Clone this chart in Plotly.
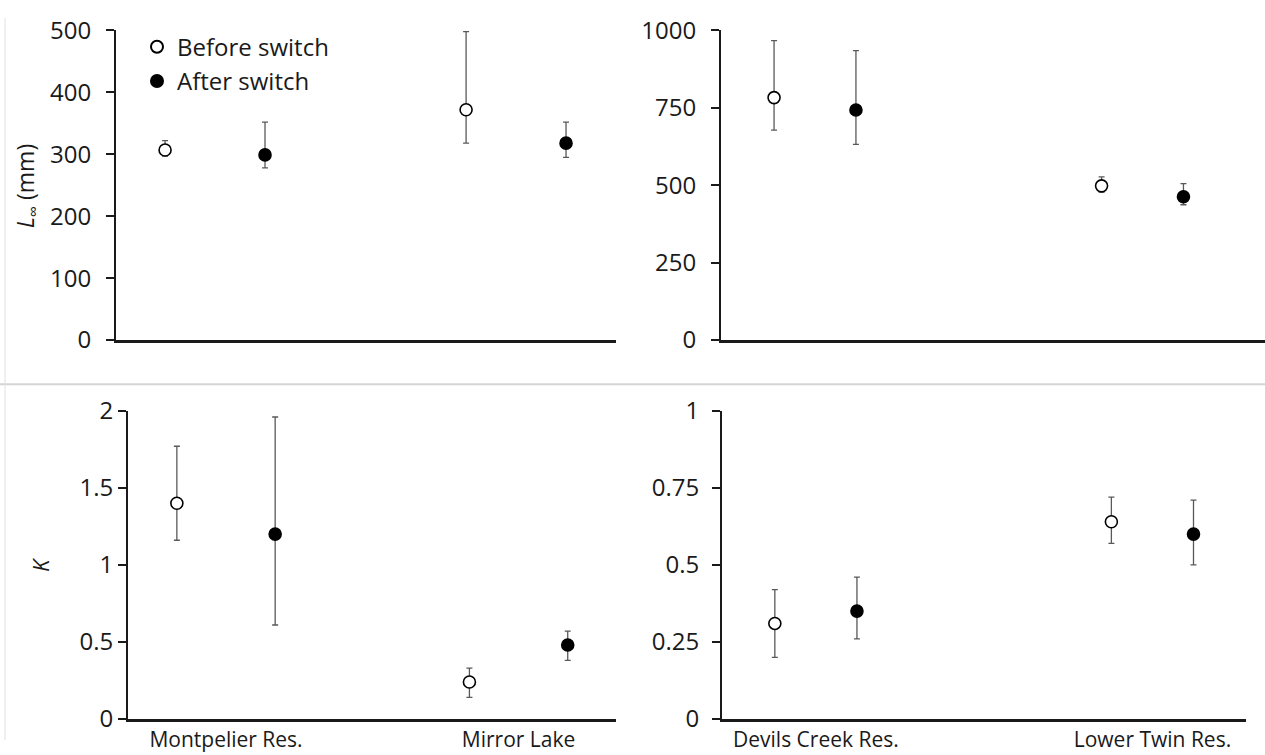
import plotly.graph_objects as go

# ---- data ----
lakes_left = ["Montpelier Res.", "Mirror Lake"]
lakes_right = ["Devils Creek Res.", "Lower Twin Res."]

linf_left_before = [307, 372]
linf_left_before_lo = [297, 318]
linf_left_before_hi = [322, 498]
linf_left_after = [299, 318]
linf_left_after_lo = [278, 295]
linf_left_after_hi = [352, 352]

linf_right_before = [783, 498]
linf_right_before_lo = [678, 478]
linf_right_before_hi = [967, 527]
linf_right_after = [743, 463]
linf_right_after_lo = [632, 437]
linf_right_after_hi = [935, 505]

k_left_before = [1.40, 0.24]
k_left_before_lo = [1.16, 0.14]
k_left_before_hi = [1.77, 0.33]
k_left_after = [1.20, 0.48]
k_left_after_lo = [0.61, 0.38]
k_left_after_hi = [1.96, 0.57]

k_right_before = [0.31, 0.64]
k_right_before_lo = [0.20, 0.57]
k_right_before_hi = [0.42, 0.72]
k_right_after = [0.35, 0.60]
k_right_after_lo = [0.26, 0.50]
k_right_after_hi = [0.46, 0.71]

series_names = ["Before switch", "After switch"]

W, H = 1265, 755
FONT = "Open Sans"
AX = "#1a1a1a"
ERR = "#595959"

fig = go.Figure()

panels = [
    ("x", "y", linf_left_before, linf_left_before_lo, linf_left_before_hi,
     linf_left_after, linf_left_after_lo, linf_left_after_hi, 0.166, True),
    ("x2", "y2", linf_right_before, linf_right_before_lo, linf_right_before_hi,
     linf_right_after, linf_right_after_lo, linf_right_after_hi, 0.125, False),
    ("x3", "y3", k_left_before, k_left_before_lo, k_left_before_hi,
     k_left_after, k_left_after_lo, k_left_after_hi, 0.168, False),
    ("x4", "y4", k_right_before, k_right_before_lo, k_right_before_hi,
     k_right_after, k_right_after_lo, k_right_after_hi, 0.122, False),
]

for xa, ya, b, blo, bhi, a, alo, ahi, d, show in panels:
    idx = list(range(len(b)))
    for name, vals, lo, hi, off, fill in [
        (series_names[0], b, blo, bhi, -d, "white"),
        (series_names[1], a, alo, ahi, d, "black"),
    ]:
        fig.add_trace(go.Scatter(
            x=[i + off for i in idx], y=vals,
            mode="markers", name=name, showlegend=show,
            xaxis=xa, yaxis=ya,
            marker=dict(size=12, color=fill, line=dict(color="black", width=1.6)),
            error_y=dict(type="data", symmetric=False,
                         array=[h - v for h, v in zip(hi, vals)],
                         arrayminus=[v - l for l, v in zip(lo, vals)],
                         color=ERR, thickness=1.3, width=3),
            hoverinfo="skip",
        ))

ytickfont = dict(family=FONT, size=24, color=AX)
xtickfont = dict(family=FONT, size=21, color=AX)

def yax(domain, rng, tvals, standoff):
    return dict(domain=domain, range=rng, showgrid=False, zeroline=False,
                showline=True, linecolor=AX, linewidth=2,
                ticks="outside", ticklen=8, tickwidth=2, tickcolor=AX,
                tickfont=ytickfont, fixedrange=True,
                ticklabelstandoff=standoff,
                tickmode="array", tickvals=tvals)

def xax(domain, rng, anchor, labels=None):
    d = dict(domain=domain, range=rng, anchor=anchor, showgrid=False,
             zeroline=False, showline=True, linecolor=AX, linewidth=2.5,
             ticks="", tickfont=xtickfont, fixedrange=True)
    if labels:
        d.update(tickmode="array", tickvals=list(range(len(labels))),
                 ticktext=labels)
    else:
        d.update(showticklabels=False)
    return d

top = [1 - 336.8 / H, 1 - 13.0 / H]
bot = [1 - 733.0 / H, 1 - 410.8 / H]

fig.update_layout(
    width=W, height=H,
    margin=dict(l=0, r=0, t=0, b=0),
    paper_bgcolor="white", plot_bgcolor="white",
    font=dict(family=FONT, color=AX),
    xaxis=xax([116 / W, 616 / W], [-0.329, 1.332], "y"),
    yaxis=dict(yax(top, [0, 500], [0, 100, 200, 300, 400, 500], 10), anchor="x"),
    xaxis2=xax([721 / W, 1.0], [-0.287, 1.374], "y2"),
    yaxis2=dict(yax(top, [0, 1000], [0, 250, 500, 750, 1000], 10), anchor="x2"),
    xaxis3=xax([128 / W, 616 / W], [-0.335, 1.333], "y3", lakes_left),
    yaxis3=dict(yax(bot, [0, 2], [0, 0.5, 1, 1.5, 2], 0), anchor="x3"),
    xaxis4=xax([722 / W, 1246 / W], [-0.279, 1.278], "y4", lakes_right),
    yaxis4=dict(yax(bot, [0, 1], [0, 0.25, 0.5, 0.75, 1], 8), anchor="x4"),
    showlegend=True,
    legend=dict(x=137 / W, y=1 - 7 / H, xanchor="left", yanchor="top",
                font=dict(family=FONT, size=24, color=AX),
                bgcolor="rgba(0,0,0,0)", itemsizing="constant",
                tracegroupgap=0, itemwidth=30),
)

# axis titles
fig.add_annotation(text="<i>L</i><sub>∞</sub> (mm)", x=26 / W, y=1 - 176 / H,
                   xref="paper", yref="paper", xanchor="center", yanchor="middle",
                   textangle=-90, showarrow=False,
                   font=dict(family=FONT, size=23, color=AX))
fig.add_annotation(text="<i>K</i>", x=40 / W, y=1 - 572 / H,
                   xref="paper", yref="paper", xanchor="center", yanchor="middle",
                   textangle=-90, showarrow=False,
                   font=dict(family=FONT, size=22, color=AX))

# panel separators
fig.add_shape(type="line", xref="paper", yref="paper", x0=0, x1=1,
              y0=1 - 383 / H, y1=1 - 383 / H,
              line=dict(color="#d4d4d4", width=2))
fig.add_shape(type="line", xref="paper", yref="paper", x0=5 / W, x1=5 / W,
              y0=0, y1=1, line=dict(color="#e0e0e0", width=1))

fig.write_html(
    "out.html",
    config={"displayModeBar": False},
    post_script="document.body.style.margin='0';document.body.style.overflow='hidden';",
)
